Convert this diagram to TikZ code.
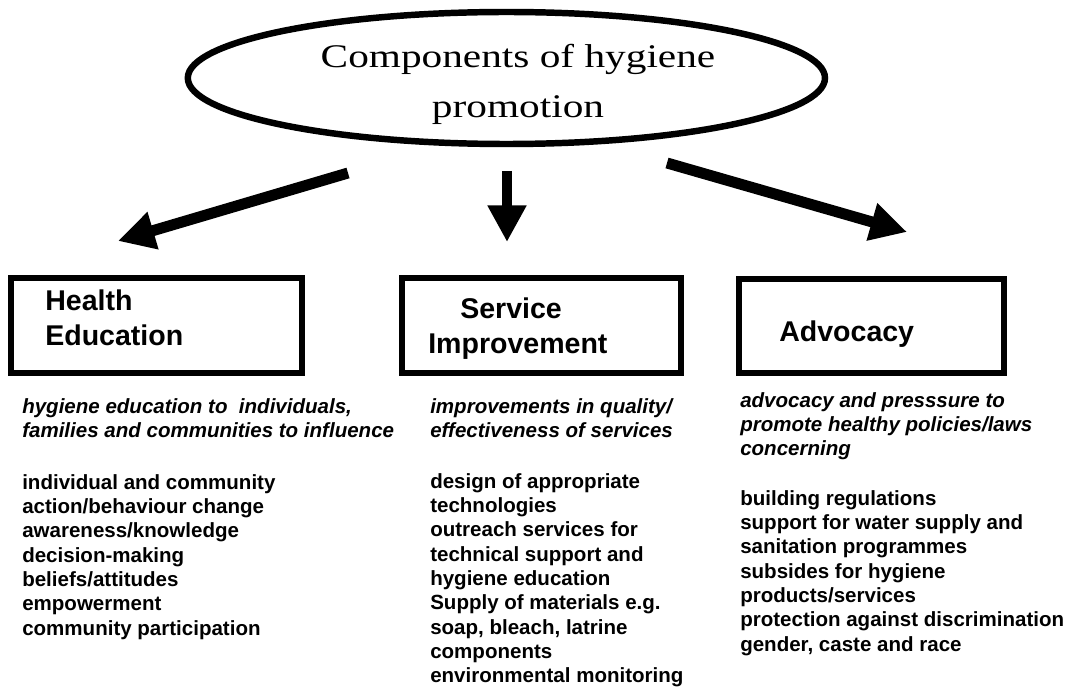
\documentclass[tikz,border=0pt]{standalone}
\usepackage{fontspec}
\setmainfont{Liberation Sans}
\newfontfamily\titlefont[FakeStretch=1.25]{Liberation Serif}
\usetikzlibrary{shapes.geometric,arrows.meta}

\tikzset{
	headfont/.style={font=\fontsize{20.3pt}{24.9pt}\selectfont\bfseries},
	bodyfont/.style={font=\fontsize{14.6pt}{17.3pt}\selectfont\bfseries},
	bodyit/.style={font=\fontsize{14.6pt}{17.3pt}\selectfont\bfseries\itshape},
	catbox/.style={draw, line width=3.9pt, minimum height=2.375cm, inner sep=0pt},
	txt/.style={anchor=north west, align=left, inner sep=0pt},
	bigarrow/.style={line width=7.8pt, -{Triangle[width=26pt,length=26pt]}}
}

\begin{document}
\begin{tikzpicture}
				\useasboundingbox (0,0) rectangle (26.8,17.25);

				% Title
				\node[draw, ellipse, line width=4.6pt, minimum width=15.93cm, minimum height=3.3cm, inner sep=0pt] (topic) at (12.66,15.3) {};
				\node[align=center, inner sep=0pt, font=\titlefont\fontsize{23.5pt}{35.6pt}\selectfont] (topictxt) at (12.95,15.15) {Components of hygiene\\promotion};

				% Arrows
				\coordinate (ltail) at (8.70,12.925);
				\coordinate (lhead) at (2.95,11.225);
				\coordinate (mtail) at (12.675,12.975);
				\coordinate (mhead) at (12.675,11.2);
				\coordinate (rtail) at (16.675,13.175);
				\coordinate (rhead) at (22.675,11.45);
				\draw[bigarrow] (ltail) -- (lhead);
				\draw[bigarrow] (mtail) -- (mhead);
				\draw[bigarrow] (rtail) -- (rhead);

				% Health education
				\node[catbox, minimum width=7.275cm] (hebox) at (3.9125,9.1125) {};
				\node[txt, headfont] (hehead) at (1.125,10.0) {Health\\Education};
				\node[txt, bodyit] (heaim) at (0.55,7.3) {hygiene education to~ individuals,\\families and communities to influence};
				\node[txt, bodyfont] (helist) at (0.55,5.4) {individual and community\\action/behaviour change\\awareness/knowledge\\decision-making\\beliefs/attitudes\\empowerment\\community participation};

				% Service improvement
				\node[catbox, minimum width=6.975cm] (sibox) at (13.5375,9.1125) {};
				\node[txt, headfont] (sihead) at (10.7,9.8) {\hspace*{0.8cm}Service\\Improvement};
				\node[txt, bodyit] (siaim) at (10.75,7.3) {improvements in quality/\\effectiveness of services};
				\node[txt, bodyfont] (silist) at (10.75,5.425) {design of appropriate\\technologies\\outreach services for\\technical support and\\hygiene education\\Supply of materials e.g.\\soap, bleach, latrine\\components\\environmental monitoring};

				% Advocacy
				\node[catbox, minimum width=6.625cm, minimum height=2.35cm] (adbox) at (21.7875,9.1) {};
				\node[txt, headfont] (adhead) at (19.475,9.225) {Advocacy};
				\node[txt, bodyit] (adaim) at (18.5,7.45) {advocacy and presssure to\\promote healthy policies/laws\\concerning};
				\node[txt, bodyfont] (adlist) at (18.5,5.0) {building regulations\\support for water supply and\\sanitation programmes\\subsides for hygiene\\products/services\\protection against discrimination\\gender, caste and race};
\end{tikzpicture}
\end{document}
